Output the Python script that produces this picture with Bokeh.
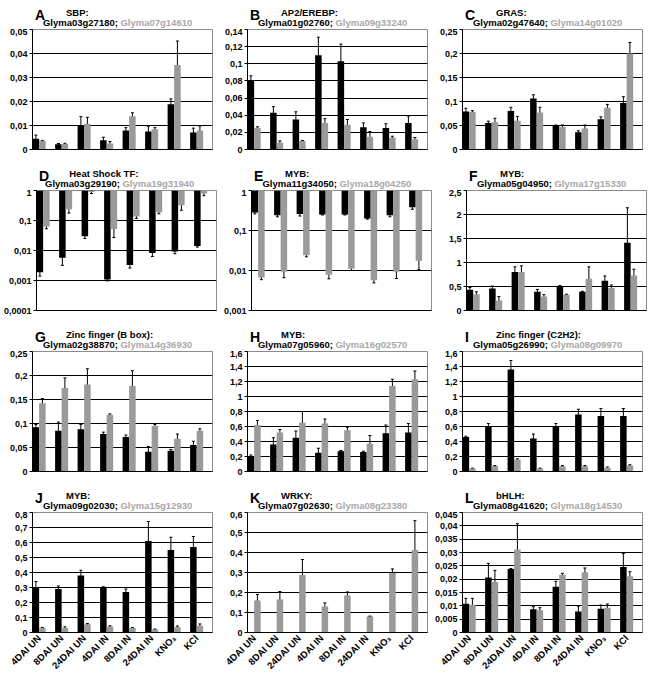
import json
from bokeh.plotting import figure
from bokeh.models import (FixedTicker, Whisker, ColumnDataSource, TeeHead,
                          Range1d, CustomJSTickFormatter)
from bokeh.layouts import column, row
from bokeh.core.properties import value
from bokeh.embed import file_html
from bokeh.resources import INLINE

conditions = ["4DAI UN", "8DAI UN", "24DAI UN", "4DAI IN", "8DAI IN", "24DAI IN", "KNO\u2083", "KCl"]

letters = ["A", "B", "C", "D", "E", "F", "G", "H", "I", "J", "K", "L"]
families = ["SBP:", "AP2/EREBP:", "GRAS:", "Heat Shock TF:", "MYB:", "MYB:",
            "Zinc finger (B box):", "MYB:", "Zinc finger (C2H2):", "MYB:", "WRKY:", "bHLH:"]
genes_black = ["Glyma03g27180", "Glyma01g02760", "Glyma02g47640", "Glyma03g29190",
               "Glyma11g34050", "Glyma05g04950", "Glyma02g38870", "Glyma07g05960",
               "Glyma05g26990", "Glyma09g02030", "Glyma07g02630", "Glyma08g41620"]
genes_gray = ["Glyma07g14610", "Glyma09g33240", "Glyma14g01020", "Glyma19g31940",
              "Glyma18g04250", "Glyma17g15330", "Glyma14g36930", "Glyma16g02570",
              "Glyma08g09970", "Glyma15g12930", "Glyma08g23380", "Glyma18g14530"]

# axis settings per panel
log_axis = [False, False, False, True, True, False, False, False, False, False, False, False]
y_min = [0, 0, 0, 0.0001, 0.001, 0, 0, 0, 0, 0, 0, 0]
y_max = [0.05, 0.14, 0.25, 1, 1, 2.5, 0.25, 1.6, 1.6, 0.8, 0.6, 0.045]
y_step = [0.01, 0.02, 0.05, None, None, 0.5, 0.05, 0.2, 0.2, 0.1, 0.1, 0.005]

# values (black gene, gray gene) and error bars
black_vals = [
    [0.0045, 0.0022, 0.0099, 0.0039, 0.0079, 0.0075, 0.0189, 0.0071],
    [0.081, 0.043, 0.035, 0.110, 0.103, 0.026, 0.025, 0.031],
    [0.079, 0.055, 0.080, 0.106, 0.050, 0.036, 0.063, 0.097],
    [0.0019, 0.0057, 0.030, 0.00107, 0.0033, 0.0083, 0.0093, 0.014],
    [0.28, 0.24, 0.26, 0.25, 0.25, 0.20, 0.24, 0.38],
    [0.43, 0.46, 0.80, 0.39, 0.49, 0.39, 0.62, 1.41],
    [0.092, 0.085, 0.088, 0.078, 0.072, 0.041, 0.043, 0.055],
    [0.20, 0.36, 0.45, 0.25, 0.27, 0.26, 0.51, 0.52],
    [0.46, 0.60, 1.36, 0.44, 0.60, 0.76, 0.74, 0.74],
    [0.30, 0.29, 0.38, 0.30, 0.27, 0.61, 0.55, 0.57],
    [0, 0, 0, 0, 0, 0, 0, 0],
    [0.0108, 0.0206, 0.0238, 0.0087, 0.0172, 0.0079, 0.0089, 0.0246],
]
black_errs = [
    [0.0015, 0.0003, 0.0038, 0.0012, 0.0012, 0.0022, 0.0022, 0.0018],
    [0.005, 0.007, 0.009, 0.021, 0.020, 0.005, 0.005, 0.008],
    [0.007, 0.004, 0.008, 0.008, 0.001, 0.003, 0.005, 0.013],
    [0.0005, 0.0025, 0.005, 0.0001, 0.0007, 0.002, 0.0015, 0.001],
    [0.02, 0.02, 0.03, 0.005, 0.005, 0.008, 0.02, 0.04],
    [0.05, 0.05, 0.11, 0.05, 0.03, 0.01, 0.10, 0.73],
    [0.006, 0.018, 0.010, 0.004, 0.004, 0.011, 0.003, 0.008],
    [0.02, 0.09, 0.09, 0.06, 0.01, 0.01, 0.11, 0.12],
    [0.01, 0.04, 0.12, 0.06, 0.04, 0.07, 0.10, 0.10],
    [0.04, 0.02, 0.035, 0.005, 0.02, 0.13, 0.085, 0.07],
    [0, 0, 0, 0, 0, 0, 0, 0],
    [0.002, 0.0053, 0.0002, 0.001, 0.002, 0.002, 0.0014, 0.005],
]
gray_vals = [
    [0.0036, 0.0023, 0.0107, 0.0025, 0.0139, 0.0084, 0.0352, 0.0079],
    [0.025, 0.008, 0.010, 0.031, 0.029, 0.015, 0.014, 0.012],
    [0.078, 0.057, 0.060, 0.077, 0.047, 0.044, 0.087, 0.200],
    [0.063, 0.237, 0.89, 0.052, 0.137, 0.187, 0.32, 0.79],
    [0.0067, 0.0093, 0.024, 0.0078, 0.011, 0.0057, 0.0093, 0.0175],
    [0.34, 0.21, 0.80, 0.29, 0.33, 0.66, 0.47, 0.73],
    [0.142, 0.174, 0.181, 0.118, 0.178, 0.095, 0.068, 0.085],
    [0.62, 0.52, 0.65, 0.64, 0.55, 0.37, 1.14, 1.23],
    [0.04, 0.07, 0.16, 0.04, 0.07, 0.07, 0.05, 0.08],
    [0.03, 0.03, 0.055, 0.04, 0.03, 0.02, 0.035, 0.045],
    [0.16, 0.165, 0.287, 0.13, 0.185, 0.08, 0.298, 0.412],
    [0.0104, 0.0189, 0.0311, 0.0083, 0.0217, 0.0226, 0.0093, 0.0211],
]
gray_errs = [
    [0.0002, 0.0003, 0.0027, 0.0008, 0.0014, 0.0007, 0.0100, 0.0019],
    [0.0015, 0.002, 0.0005, 0.005, 0.006, 0.006, 0.0015, 0.002],
    [0.003, 0.008, 0.009, 0.011, 0.004, 0.007, 0.007, 0.023],
    [0.01, 0.06, 0.1, 0.025, 0.02, 0.02, 0.1, 0.12],
    [0.0008, 0.0027, 0.002, 0.0016, 0.001, 0.0008, 0.003, 0.007],
    [0.05, 0.08, 0.13, 0.04, 0.01, 0.25, 0.06, 0.13],
    [0.010, 0.021, 0.033, 0.002, 0.032, 0.003, 0.010, 0.004],
    [0.06, 0.04, 0.15, 0.06, 0.04, 0.11, 0.09, 0.11],
    [0.005, 0.01, 0.01, 0.005, 0.01, 0.01, 0.01, 0.01],
    [0.003, 0.008, 0.005, 0.005, 0.003, 0.003, 0.008, 0.012],
    [0.03, 0.04, 0.078, 0.018, 0.018, 0.002, 0.02, 0.147],
    [0.0024, 0.0044, 0.0097, 0.001, 0.0005, 0.0016, 0.0014, 0.0017],
]

BLACK = "#000000"
GRAY = "#9a9a9a"
GRAY_TEXT = "#a8a8a8"
FONT = "Arial"
PW = 215            # panel width
LEFT, RIGHT = 32, 3
FW = PW - LEFT - RIGHT
FH = 120
TH = 28             # title strip height
BAR_W = 0.29
OFF_BLACK, OFF_GRAY = 0.15, 0.44
TITLE_PX = 9.5
SPLIT_X = LEFT + 70   # where the black gene name ends and the gray one starts


def make_title(i):
    t = figure(width=PW, height=TH, x_range=Range1d(0, PW), y_range=Range1d(0, TH),
               min_border=0, toolbar_location=None, output_backend="svg", title=None)
    t.axis.visible = False
    t.grid.visible = False
    t.outline_line_color = None
    t.background_fill_color = "white"
    t.border_fill_color = "white"
    bold = dict(text_font=value(FONT), text_font_style="bold", text_baseline="alphabetic")
    t.text(x=[3], y=[14], text=[letters[i]], text_font_size="14px", text_color="black", **bold)
    t.text(x=[LEFT + 8], y=[16], text=[families[i]], text_font_size="%gpx" % TITLE_PX,
           text_color="black", **bold)
    t.text(x=[SPLIT_X], y=[6], text=[genes_black[i] + ";"], text_font_size="%gpx" % TITLE_PX,
           text_color="black", text_align="right", **bold)
    t.text(x=[SPLIT_X + 3], y=[6], text=[genes_gray[i]], text_font_size="%gpx" % TITLE_PX,
           text_color=GRAY_TEXT, text_align="left", **bold)
    return t


def make_panel(i):
    bottom_row = i >= 9
    log = log_axis[i]
    p = figure(frame_width=FW, frame_height=FH,
               min_border_left=LEFT, min_border_right=RIGHT, min_border_top=1,
               min_border_bottom=45 if bottom_row else 12,
               x_range=Range1d(0, 8), y_range=Range1d(y_min[i], y_max[i]),
               y_axis_type="log" if log else "linear",
               toolbar_location=None, output_backend="svg", title=None)
    p.background_fill_color = "white"
    p.border_fill_color = "white"
    p.outline_line_color = "#8c8c8c"

    n = len(conditions)
    xb = [k + OFF_BLACK for k in range(n)]
    xg = [k + OFF_GRAY for k in range(n)]
    if log:
        yt = [10.0 ** e for e in range(-4, 1) if 10.0 ** e >= y_min[i] * 0.999]
        base = y_max[i]
        p.vbar(x=xb, width=BAR_W, top=base, bottom=black_vals[i], fill_color=BLACK, line_color=None)
        p.vbar(x=xg, width=BAR_W, top=base, bottom=gray_vals[i], fill_color=GRAY, line_color=None)
    else:
        steps = int(round(y_max[i] / y_step[i]))
        yt = [round(k * y_step[i], 6) for k in range(steps + 1)]
        p.vbar(x=xb, width=BAR_W, top=black_vals[i], bottom=0, fill_color=BLACK, line_color=None)
        p.vbar(x=xg, width=BAR_W, top=gray_vals[i], bottom=0, fill_color=GRAY, line_color=None)

    # error bars
    for xs, vals, errs in ((xb, black_vals[i], black_errs[i]), (xg, gray_vals[i], gray_errs[i])):
        bx, lo, hi = [], [], []
        for x, v, e in zip(xs, vals, errs):
            if v > 0 and e > 0:
                bx.append(x)
                lo.append(max(v - e, v * 0.05) if log else v - e)
                hi.append(v + e)
        src = ColumnDataSource(dict(x=bx, lo=lo, hi=hi))
        w = Whisker(source=src, base="x", lower="lo", upper="hi", line_color="black", line_width=1,
                    upper_head=TeeHead(size=3, line_color="black", line_width=1),
                    lower_head=TeeHead(size=3, line_color="black", line_width=1))
        p.add_layout(w)

    # y axis
    tk = FixedTicker(ticks=yt, minor_ticks=[])
    p.yaxis.ticker = tk
    p.ygrid.ticker = tk
    p.yaxis.formatter = CustomJSTickFormatter(code="return String(tick).replace('.', ',');")
    p.yaxis.major_label_text_font = FONT
    p.yaxis.major_label_text_font_style = "bold"
    p.yaxis.major_label_text_font_size = "9px"
    p.yaxis.major_label_text_color = "black"
    p.yaxis.major_tick_out = 3
    p.yaxis.major_tick_in = 0
    p.yaxis.minor_tick_line_color = None
    p.yaxis.major_label_standoff = 2
    p.yaxis.axis_line_color = "black"
    p.ygrid.grid_line_color = "black"
    p.ygrid.grid_line_width = 1
    p.xgrid.visible = False

    # x axis
    p.xaxis.axis_line_color = "black"
    p.xaxis.major_tick_line_color = None
    p.xaxis.minor_tick_line_color = None
    p.xaxis.major_tick_out = 0
    p.xaxis.major_tick_in = 0
    if bottom_row:
        p.xaxis.ticker = FixedTicker(ticks=[k + 0.3 for k in range(n)], minor_ticks=[])
        p.xaxis.formatter = CustomJSTickFormatter(
            code="const labels = %s; return labels[Math.round(tick - 0.3)];" % json.dumps(conditions))
        p.xaxis.major_label_orientation = 0.785398
        p.xaxis.major_label_text_font = FONT
        p.xaxis.major_label_text_font_style = "bold"
        p.xaxis.major_label_text_font_size = "9.5px"
        p.xaxis.major_label_text_color = "black"
        p.xaxis.major_label_standoff = 4
    else:
        p.xaxis.ticker = FixedTicker(ticks=[], minor_ticks=[])
        p.xaxis.major_label_text_font_size = "0px"
        p.xaxis.major_label_standoff = 0
    return p


cells = [column(make_title(i), make_panel(i)) for i in range(12)]
layout = column(row(*cells[0:3]), row(*cells[3:6]), row(*cells[6:9]), row(*cells[9:12]))

open("out.html", "w").write(file_html(layout, INLINE))
